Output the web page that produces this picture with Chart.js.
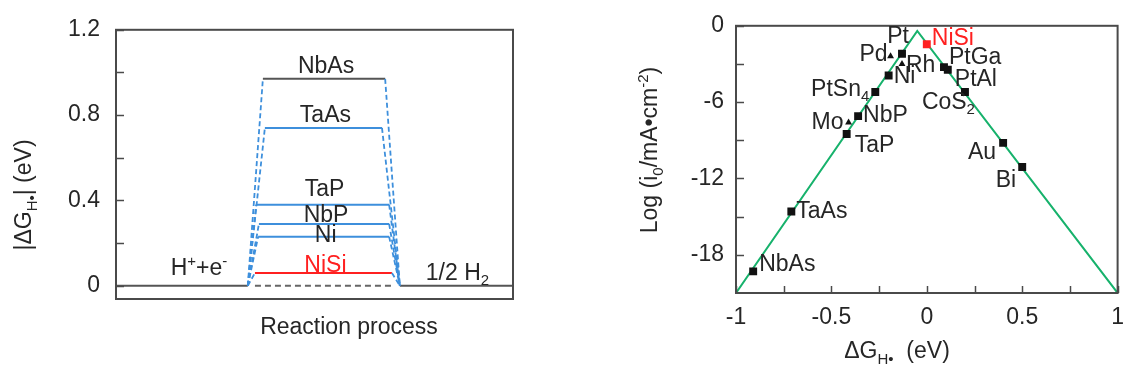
<!DOCTYPE html>
<html>
<head>
<meta charset="utf-8">
<script src="https://cdn.jsdelivr.net/npm/chart.js@4.4.0/dist/chart.umd.min.js"></script>
<style>
  html, body { margin: 0; padding: 0; background: #fff; }
  #wrap { position: relative; width: 1135px; height: 371px; overflow: hidden; }
  #leftChart { position: absolute; left: 0; top: 0; }
  #rightChart { position: absolute; left: 580px; top: 0; }
</style>
</head>
<body>
<div id="wrap">
  <canvas id="leftChart" width="560" height="371"></canvas>
  <canvas id="rightChart" width="555" height="371"></canvas>
</div>
<script>
// left panel: |dG_H*| levels along the reaction path
var levelNames = ['NbAs', 'TaAs', 'TaP', 'NbP', 'Ni', 'NiSi'];
var levelValues = [0.97, 0.74, 0.38, 0.29, 0.23, 0.06];
var levelStart = [37.0, 37.5, 35.3, 36.0, 35.8, 35.0];
var levelEnd = [67.8, 67.0, 68.8, 68.8, 68.8, 69.5];
var baseLeftEnd = 33.2;
var baseRightStart = 71.5;
var leftTicks = [0, 0.2, 0.4, 0.6, 0.8, 1.0, 1.2];
var leftTickLabels = ['0', '', '0.4', '', '0.8', '', '1.2'];

// right panel: volcano plot
var volcanoX = [-1, -0.05, 1];
var volcanoY = [-21, -0.4, -21];
var squareNames = ['NbAs', 'TaAs', 'TaP', 'NbP', 'PtSn4', 'Ni', 'Pt', 'PtGa', 'PtAl', 'CoS2', 'Au', 'Bi'];
var squareX = [-0.91, -0.71, -0.42, -0.36, -0.27, -0.20, -0.13, 0.09, 0.11, 0.20, 0.40, 0.50];
var squareY = [-19.3, -14.6, -8.5, -7.1, -5.2, -3.9, -2.2, -3.25, -3.45, -5.2, -9.2, -11.1];
var triangleNames = ['Mo', 'Pd', 'Rh'];
var triangleX = [-0.41, -0.19, -0.13];
var triangleY = [-7.6, -2.4, -3.0];
var nisiX = [0.0];
var nisiY = [-1.45];
var rightXTicks = [-1, -0.75, -0.5, -0.25, 0, 0.25, 0.5, 0.75, 1];
var rightXTickLabels = ['-1', '', '-0.5', '', '0', '', '0.5', '', '1'];
var rightYTicks = [0, -3, -6, -9, -12, -15, -18];
var rightYTickLabels = ['0', '', '-6', '', '-12', '', '-18'];

// label placement (pixel offsets from the point) - style only
var leftLabelDy = [-12, -12, -15, -8, -1, -7];
var squareLabelPos = [[6, -7, 'left'], [5, 0, 'left'], [8, 12, 'left'], [5, 0, 'left'], [-6, -2, 'right'], [5, 1, 'left'],
  [-4, -17, 'center'], [5, -9, 'left'], [7, 10, 'left'], [10, 11, 'right'], [-7, 10, 'right'], [-6, 14, 'right']];
var triangleLabelPos = [[-5, 0, 'right'], [-3, -2, 'right'], [4, 2, 'left']];

var FONT = '"Liberation Sans", Arial, sans-serif';
var TEXT = '#262626';
var BLUE = '#3d8fdc';
var RED = '#ff2020';
var GREEN = '#17b26c';
var AXIS = '#4a4a4a';

function pts(xs, ys) {
  return xs.map(function (x, i) { return { x: x, y: ys[i] }; });
}

// parts: [text, kind] kind 0 normal, 1 subscript, 2 superscript
function richText(ctx, parts, x, y, size, align, color, rotate) {
  var small = Math.round(size * 0.66);
  var w = 0;
  parts.forEach(function (p) {
    ctx.font = (p[1] ? small : size) + 'px ' + FONT;
    w += ctx.measureText(p[0]).width;
  });
  ctx.save();
  ctx.translate(x, y);
  if (rotate) ctx.rotate(rotate);
  var cx = align === 'left' ? 0 : (align === 'right' ? -w : -w / 2);
  ctx.textAlign = 'left';
  ctx.textBaseline = 'middle';
  ctx.fillStyle = color || TEXT;
  parts.forEach(function (p) {
    ctx.font = (p[1] ? small : size) + 'px ' + FONT;
    var dy = p[1] === 1 ? size * 0.32 : (p[1] === 2 ? -size * 0.32 : 0);
    ctx.fillText(p[0], cx, dy);
    cx += ctx.measureText(p[0]).width;
  });
  ctx.restore();
}

function nameParts(name) {
  var m = name.match(/^(.*?)(\d+)$/);
  if (m) return [[m[1], 0], [m[2], 1]];
  return [[name, 0]];
}

function drawBox(ctx, a) {
  ctx.save();
  ctx.strokeStyle = AXIS;
  ctx.lineWidth = 2;
  ctx.strokeRect(a.left, a.top, a.right - a.left, a.bottom - a.top);
  ctx.restore();
}

// ---------------- left chart ----------------
var leftSets = [];
levelNames.forEach(function (n, i) {
  leftSets.push({
    data: [{ x: baseLeftEnd, y: 0 }, { x: levelStart[i], y: levelValues[i] }],
    borderColor: BLUE, borderWidth: 1.8, borderDash: [5, 3]
  });
  leftSets.push({
    data: [{ x: levelEnd[i], y: levelValues[i] }, { x: baseRightStart, y: 0 }],
    borderColor: BLUE, borderWidth: 1.8, borderDash: [5, 3]
  });
});
levelNames.forEach(function (n, i) {
  var c = n === 'NbAs' ? '#555555' : (n === 'NiSi' ? RED : BLUE);
  leftSets.push({
    data: [{ x: levelStart[i], y: levelValues[i] }, { x: levelEnd[i], y: levelValues[i] }],
    borderColor: c, borderWidth: 2
  });
});
leftSets.push({ data: [{ x: 0, y: 0 }, { x: baseLeftEnd, y: 0 }], borderColor: '#555555', borderWidth: 2 });
leftSets.push({ data: [{ x: baseRightStart, y: 0 }, { x: 100, y: 0 }], borderColor: '#555555', borderWidth: 2 });
leftSets.push({ data: [{ x: 35.0, y: 0 }, { x: 69.5, y: 0 }], borderColor: '#666666', borderWidth: 2, borderDash: [6, 4] });
leftSets.forEach(function (d) { d.showLine = true; d.pointRadius = 0; d.fill = false; });

var leftDecor = {
  id: 'leftDecor',
  afterDraw: function (chart) {
    var ctx = chart.ctx, a = chart.chartArea;
    var xs = chart.scales.x, ys = chart.scales.y;
    drawBox(ctx, a);
    ctx.save();
    ctx.strokeStyle = AXIS;
    ctx.lineWidth = 1.5;
    leftTicks.forEach(function (v) {
      var py = Math.round(ys.getPixelForValue(v)) + 0.5;
      ctx.beginPath(); ctx.moveTo(a.left, py); ctx.lineTo(a.left + 8, py); ctx.stroke();
    });
    ctx.restore();
    levelNames.forEach(function (n, i) {
      var px = xs.getPixelForValue((levelStart[i] + levelEnd[i]) / 2) + 2;
      var py = ys.getPixelForValue(levelValues[i]) + leftLabelDy[i];
      richText(ctx, [[n, 0]], px, py, 23, 'center', n === 'NiSi' ? RED : TEXT);
    });
    richText(ctx, [['H', 0], ['+', 2], ['+e', 0], ['-', 2]], xs.getPixelForValue(20.9), ys.getPixelForValue(0) - 17, 23, 'center');
    richText(ctx, [['1/2 H', 0], ['2', 1]], xs.getPixelForValue(86), ys.getPixelForValue(0) - 12, 23, 'center');
    richText(ctx, [['|ΔG', 0], ['H•', 1], ['| (eV)', 0]], 25, 195, 23, 'center', TEXT, -Math.PI / 2);
    richText(ctx, [['Reaction process', 0]], 349, 328, 23, 'center');
  }
};

new Chart(document.getElementById('leftChart'), {
  type: 'scatter',
  data: { datasets: leftSets },
  options: {
    responsive: false,
    animation: false,
    layout: { padding: { left: 0, top: 15, right: 47, bottom: 0 } },
    plugins: { legend: { display: false }, tooltip: { enabled: false } },
    scales: {
      x: {
        type: 'linear', min: 0, max: 100,
        grid: { display: false, drawTicks: false }, border: { display: false },
        ticks: { display: false },
        afterFit: function (s) { s.height = 72; }
      },
      y: {
        type: 'linear', min: -0.062, max: 1.2,
        grid: { display: false, drawTicks: false }, border: { display: false },
        ticks: {
          padding: 16, autoSkip: false, color: TEXT, font: { size: 23, family: FONT },
          callback: function (v, i) { return leftTickLabels[i]; }
        },
        afterBuildTicks: function (s) { s.ticks = leftTicks.map(function (v) { return { value: v }; }); },
        afterFit: function (s) { s.width = 116; }
      }
    }
  },
  plugins: [leftDecor]
});

// ---------------- right chart ----------------
var rightDecor = {
  id: 'rightDecor',
  afterDraw: function (chart) {
    var ctx = chart.ctx, a = chart.chartArea;
    var xs = chart.scales.x, ys = chart.scales.y;
    drawBox(ctx, a);
    ctx.save();
    ctx.strokeStyle = AXIS;
    ctx.lineWidth = 1.5;
    rightYTicks.forEach(function (v) {
      var py = Math.round(ys.getPixelForValue(v)) + 0.5;
      ctx.beginPath(); ctx.moveTo(a.left, py); ctx.lineTo(a.left + 8, py); ctx.stroke();
    });
    rightXTicks.forEach(function (v) {
      var px = Math.round(xs.getPixelForValue(v)) + 0.5;
      ctx.beginPath(); ctx.moveTo(px, a.bottom); ctx.lineTo(px, a.bottom - 7); ctx.stroke();
    });
    ctx.restore();
    squareNames.forEach(function (n, i) {
      var p = squareLabelPos[i];
      richText(ctx, nameParts(n), xs.getPixelForValue(squareX[i]) + p[0], ys.getPixelForValue(squareY[i]) + p[1], 23, p[2]);
    });
    triangleNames.forEach(function (n, i) {
      var p = triangleLabelPos[i];
      richText(ctx, nameParts(n), xs.getPixelForValue(triangleX[i]) + p[0], ys.getPixelForValue(triangleY[i]) + p[1], 23, p[2]);
    });
    richText(ctx, [['NiSi', 0]], xs.getPixelForValue(nisiX[0]) + 5, ys.getPixelForValue(nisiY[0]) - 6, 23, 'left', RED);
    richText(ctx, [['Log (i', 0], ['0', 1], ['/mA•cm', 0], ['-2', 2], [')', 0]], 71, 150, 23, 'center', TEXT, -Math.PI / 2);
    richText(ctx, [['ΔG', 0], ['H•', 1], ['  (eV)', 0]], 317, 352, 23, 'center');
  }
};

new Chart(document.getElementById('rightChart'), {
  type: 'scatter',
  data: {
    datasets: [
      { data: pts(volcanoX, volcanoY), order: 10, showLine: true, borderColor: GREEN, borderWidth: 2, pointRadius: 0, fill: false },
      { data: pts(squareX, squareY), order: 1, pointStyle: 'rect', pointRadius: 5.6, backgroundColor: '#111111', borderWidth: 0 },
      { data: pts(triangleX, triangleY), order: 1, pointStyle: 'triangle', pointRadius: 4, backgroundColor: '#111111', borderWidth: 0 },
      { data: pts(nisiX, nisiY), order: 1, pointStyle: 'rect', pointRadius: 5.6, backgroundColor: RED, borderWidth: 0 }
    ]
  },
  options: {
    responsive: false,
    animation: false,
    layout: { padding: { left: 0, top: 8, right: 15, bottom: 0 } },
    plugins: { legend: { display: false }, tooltip: { enabled: false } },
    scales: {
      x: {
        type: 'linear', min: -1, max: 1,
        grid: { display: false, drawTicks: false }, border: { display: false },
        ticks: {
          padding: 11, autoSkip: false, maxRotation: 0, color: TEXT, font: { size: 23, family: FONT },
          callback: function (v, i) { return rightXTickLabels[i]; }
        },
        afterBuildTicks: function (s) { s.ticks = rightXTicks.map(function (v) { return { value: v }; }); },
        afterFit: function (s) { s.height = 78; }
      },
      y: {
        type: 'linear', min: -21, max: 0,
        grid: { display: false, drawTicks: false }, border: { display: false },
        ticks: {
          padding: 12, autoSkip: false, color: TEXT, font: { size: 23, family: FONT },
          callback: function (v, i) { return rightYTickLabels[i]; }
        },
        afterBuildTicks: function (s) { s.ticks = rightYTicks.map(function (v) { return { value: v }; }); },
        afterFit: function (s) { s.width = 156; }
      }
    }
  },
  plugins: [rightDecor]
});
</script>
</body>
</html>
